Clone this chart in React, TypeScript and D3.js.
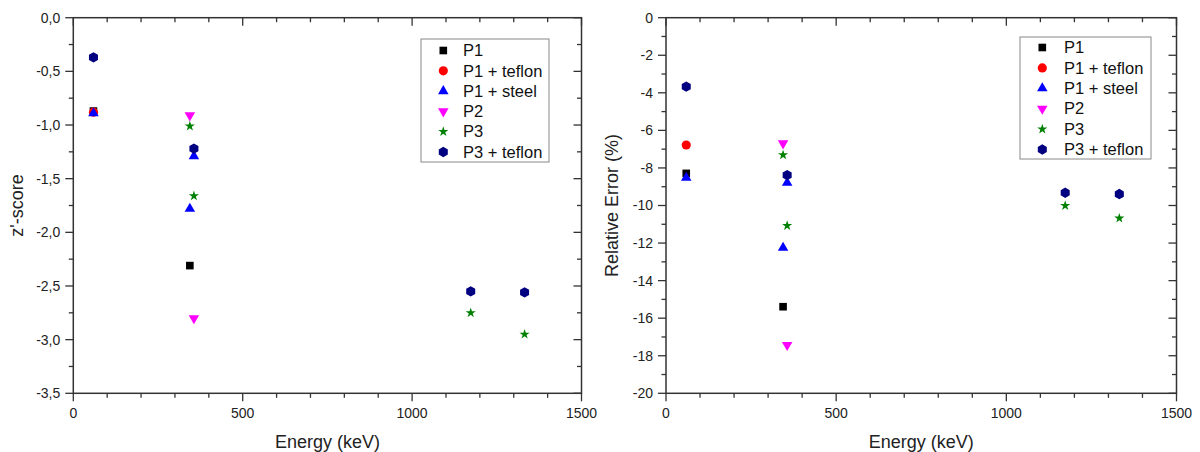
import * as d3 from "d3";

// series definitions
const seriesNames = ["P1", "P1 + teflon", "P1 + steel", "P2", "P3", "P3 + teflon"];
const seriesColors = ["#000000", "#ff0000", "#0000ff", "#ff00ff", "#008000", "#000080"];
const seriesShapes = ["square", "circle", "triangle", "down", "star", "hexagon"];

// energies (keV) for each series
const p1Energy = [59.5, 344];
const p1TeflonEnergy = [59.5];
const p1SteelEnergy = [59.5, 344, 356];
const p2Energy = [344, 356];
const p3Energy = [344, 356, 1173, 1332];
const p3TeflonEnergy = [59.5, 356, 1173, 1332];

// z'-score values
const p1Z = [-0.87, -2.31];
const p1TeflonZ = [-0.88];
const p1SteelZ = [-0.89, -1.78, -1.29];
const p2Z = [-0.91, -2.8];
const p3Z = [-1.01, -1.66, -2.75, -2.95];
const p3TeflonZ = [-0.37, -1.22, -2.55, -2.56];

// relative error (%) values
const p1Rel = [-8.29, -15.39];
const p1TeflonRel = [-6.78];
const p1SteelRel = [-8.52, -12.25, -8.79];
const p2Rel = [-6.69, -17.43];
const p3Rel = [-7.31, -11.07, -10.01, -10.68];
const p3TeflonRel = [-3.67, -8.38, -9.32, -9.39];

const energies = [p1Energy, p1TeflonEnergy, p1SteelEnergy, p2Energy, p3Energy, p3TeflonEnergy];
const zValues = [p1Z, p1TeflonZ, p1SteelZ, p2Z, p3Z, p3TeflonZ];
const relValues = [p1Rel, p1TeflonRel, p1SteelRel, p2Rel, p3Rel, p3TeflonRel];

const xTicks = [0, 500, 1000, 1500];
const xMinorTicks = d3.range(0, 1501, 100);

const FONT = "'Liberation Sans', Arial, sans-serif";
const AXIS = "#333";

function markerPath(shape: string) {
  if (shape === "square") return d3.symbol().type(d3.symbolSquare).size(58)()!;
  if (shape === "circle") return d3.symbol().type(d3.symbolCircle).size(66)()!;
  if (shape === "triangle" || shape === "down") return d3.symbol().type(d3.symbolTriangle).size(48)()!;
  if (shape === "star") return d3.symbol().type(d3.symbolStar).size(32)()!;
  // hexagon, pointy top
  const r = 5.2;
  const pts = d3.range(6).map((i) => {
    const a = (Math.PI / 3) * i - Math.PI / 2;
    return [r * Math.cos(a), r * Math.sin(a)];
  });
  return "M" + pts.map((p) => p.join(",")).join("L") + "Z";
}

function Marker({ shape, color, x, y }: { shape: string; color: string; x: number; y: number }) {
  const rot = shape === "down" ? " rotate(180)" : "";
  return <path d={markerPath(shape)} fill={color} transform={`translate(${x},${y})${rot}`} />;
}

type PanelProps = {
  x0: number;
  x1: number;
  yDomain: [number, number];
  yMajor: number[];
  yMinor: number[];
  yFormat: (v: number) => string;
  values: number[][];
  yTitle: string;
  yTitleX: number;
  legend: { x: number; y: number; w: number; h: number; symX: number; textX: number; rowY: number; rowStep: number };
};

const TOP = 17.7;
const BOTTOM = 393.3;

function Panel({ x0, x1, yDomain, yMajor, yMinor, yFormat, values, yTitle, yTitleX, legend }: PanelProps) {
  const x = d3.scaleLinear().domain([0, 1500]).range([x0, x1]);
  const y = d3.scaleLinear().domain(yDomain).range([BOTTOM, TOP]);
  const cx = (x0 + x1) / 2;
  const cy = (TOP + BOTTOM) / 2;
  return (
    <g>
      {/* frame */}
      <rect x={x0} y={TOP} width={x1 - x0} height={BOTTOM - TOP} fill="none" stroke={AXIS} strokeWidth={1.5} />
      {/* x ticks bottom (out) and top (in) */}
      {xMinorTicks.map((t) => {
        const len = t % 500 === 0 ? 8 : 4.5;
        return (
          <g key={"xt" + t} stroke={AXIS} strokeWidth={1.3}>
            <line x1={x(t)} x2={x(t)} y1={BOTTOM} y2={BOTTOM + len} />
            <line x1={x(t)} x2={x(t)} y1={TOP} y2={TOP + len} />
          </g>
        );
      })}
      {xTicks.map((t) => (
        <text key={"xl" + t} x={x(t)} y={418} textAnchor="middle" fontSize={14} fill="#222" fontFamily={FONT}>
          {t}
        </text>
      ))}
      {/* y ticks left (out) and right (in) */}
      {yMinor.map((t) => {
        const major = yMajor.some((m) => Math.abs(m - t) < 1e-9);
        const len = major ? 8 : 4.5;
        return (
          <g key={"yt" + t} stroke={AXIS} strokeWidth={1.3}>
            <line x1={x0 - len} x2={x0} y1={y(t)} y2={y(t)} />
            <line x1={x1 - len} x2={x1} y1={y(t)} y2={y(t)} />
          </g>
        );
      })}
      {yMajor.map((t) => (
        <text
          key={"yl" + t}
          x={x0 - 13}
          y={y(t)}
          dy="0.35em"
          textAnchor="end"
          fontSize={14}
          fill="#222"
          fontFamily={FONT}
        >
          {yFormat(t)}
        </text>
      ))}
      {/* axis titles */}
      <text x={cx} y={448} textAnchor="middle" fontSize={18} fill="#222" fontFamily={FONT}>
        Energy (keV)
      </text>
      <text
        transform={`translate(${yTitleX},${cy}) rotate(-90)`}
        textAnchor="middle"
        dy="0.35em"
        fontSize={18}
        fill="#222"
        fontFamily={FONT}
      >
        {yTitle}
      </text>
      {/* data */}
      {seriesNames.map((name, si) =>
        energies[si].map((e, i) => (
          <Marker
            key={name + i}
            shape={seriesShapes[si]}
            color={seriesColors[si]}
            x={x(e)}
            y={y(values[si][i])}
          />
        ))
      )}
      {/* legend */}
      <rect x={legend.x} y={legend.y} width={legend.w} height={legend.h} fill="#fff" stroke="#888" strokeWidth={1} />
      {seriesNames.map((name, si) => {
        const ry = legend.rowY + si * legend.rowStep;
        return (
          <g key={"lg" + name}>
            <Marker shape={seriesShapes[si]} color={seriesColors[si]} x={legend.symX} y={ry} />
            <text x={legend.textX} y={ry} dy="0.35em" fontSize={16.5} fill="#111" fontFamily={FONT}>
              {name}
            </text>
          </g>
        );
      })}
    </g>
  );
}

export default function App() {
  const commaFmt = (v: number) => d3.format(".1f")(v).replace(".", ",").replace("−", "-");
  const intFmt = (v: number) => String(v);
  return (
    <svg width={1200} height={452} style={{ position: "absolute", left: 0, top: 0, background: "#fff" }}>
      <Panel
        x0={73.3}
        x1={581.5}
        yDomain={[-3.5, 0]}
        yMajor={d3.range(-3.5, 0.01, 0.5).map((v) => +v.toFixed(2))}
        yMinor={d3.range(-3.5, 0.01, 0.25).map((v) => +v.toFixed(2))}
        yFormat={commaFmt}
        values={zValues}
        yTitle="z'-score"
        yTitleX={17}
        legend={{ x: 421, y: 39, w: 128, h: 123, symX: 443.3, textX: 463, rowY: 50.5, rowStep: 20.3 }}
      />
      <Panel
        x0={666}
        x1={1176.5}
        yDomain={[-20, 0]}
        yMajor={d3.range(-20, 0.01, 2)}
        yMinor={d3.range(-20, 0.01, 1)}
        yFormat={intFmt}
        values={relValues}
        yTitle="Relative Error (%)"
        yTitleX={612}
        legend={{ x: 1020, y: 37, w: 131, h: 122, symX: 1042.3, textX: 1064, rowY: 47.5, rowStep: 20.4 }}
      />
    </svg>
  );
}
